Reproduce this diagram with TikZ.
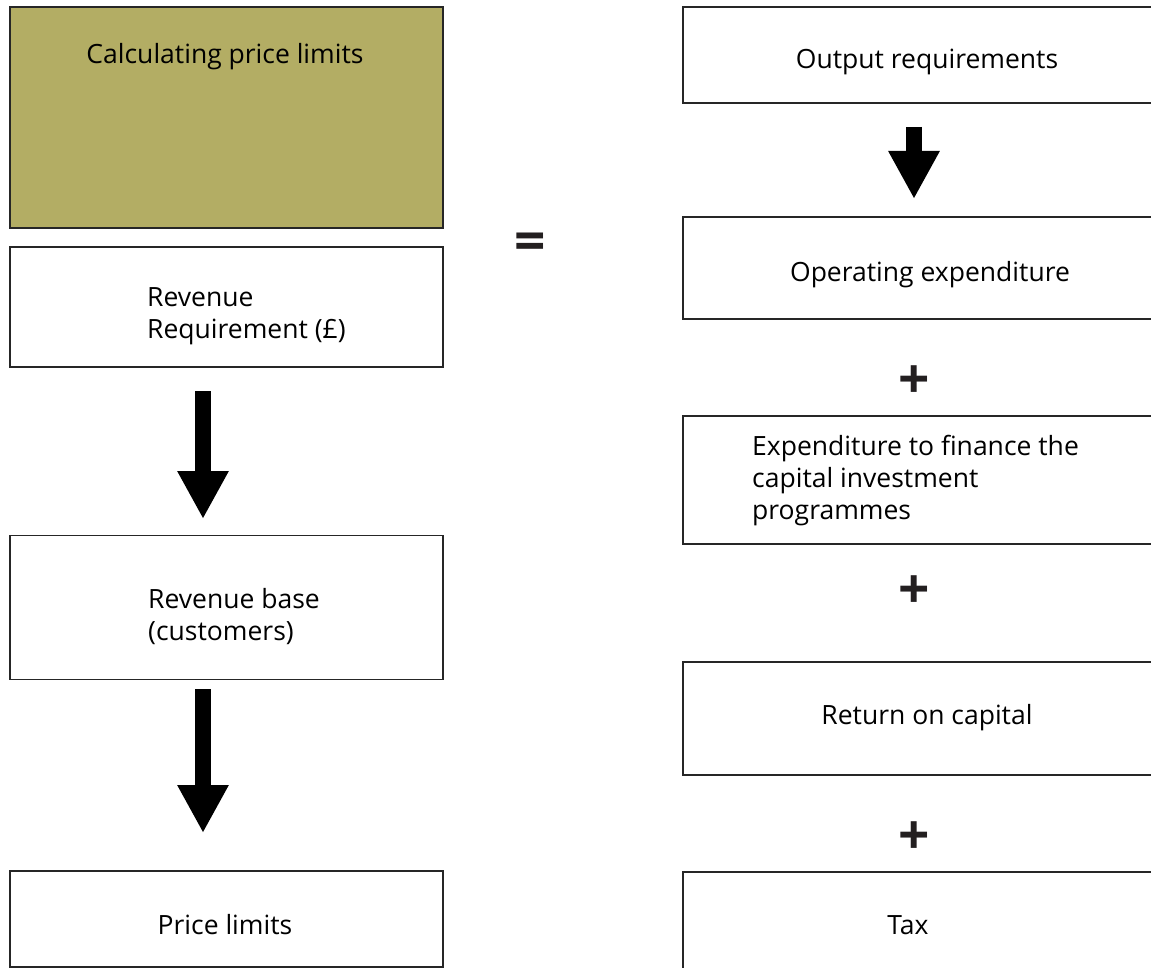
\documentclass[tikz,border=0pt]{standalone}
\usepackage{fontspec}
\setmainfont{Open Sans}
\usetikzlibrary{arrows.meta}
\definecolor{olivebox}{HTML}{B3AD64}
\definecolor{boxline}{HTML}{262626}
\definecolor{opgrey}{HTML}{231F20}
\tikzset{
  box/.style={draw=boxline, line width=1.3pt, fill=white, inner sep=0pt},
  label text/.style={inner sep=0pt, font=\fontsize{26.5}{32}\selectfont, text=black},
  block arrow/.style={line width=16pt, line cap=butt,
    -{Triangle[width=48pt, length=48pt]}},
  operator/.style={inner sep=0pt, text=opgrey, font=\fontsize{55}{55}\selectfont\bfseries}
}
\begin{document}
\begin{tikzpicture}[x=1pt, y=-1pt]
  \clip (0,0) rectangle (1151,968);
  \fill[white] (0,0) rectangle (1151,968);

  % left column
  \node[box, fill=olivebox, minimum width=433pt, minimum height=221pt] (calc) at (226.5,117.5) {};
  \node[label text] (calct) at (225,57) {Calculating price limits};

  \node[box, minimum width=433pt, minimum height=120pt] (rreq) at (226.5,307) {};
  \node[label text, anchor=west, align=left] (rreqt) at (147,316) {Revenue\\Requirement (£)};

  \node[box, minimum width=433pt, minimum height=144pt] (rbase) at (226.5,607.5) {};
  \node[label text, anchor=west, align=left] (rbaset) at (148,617) {Revenue base\\(customers)};

  \node[box, minimum width=433pt, minimum height=96pt] (plim) at (226.5,919) {};
  \node[label text] (plimt) at (225,925) {Price limits};

  \coordinate (a1s) at (203,391);
  \coordinate (a1e) at (203,519);
  \draw[block arrow] (a1s) -- (a1e);
  \coordinate (a2s) at (203,689);
  \coordinate (a2e) at (203,833);
  \draw[block arrow] (a2s) -- (a2e);

  % equals sign between the two sides
  \node[operator] (eq) at (530.5,247) {=};

  % right column
  \node[box, minimum width=488pt, minimum height=96pt] (outreq) at (927,55) {};
  \node[label text] (outreqt) at (927,62) {Output requirements};

  \node[box, minimum width=488pt, minimum height=102pt] (opex) at (927,268) {};
  \node[label text] (opext) at (930,275) {Operating expenditure};

  \node[box, minimum width=488pt, minimum height=128pt] (capex) at (927,480) {};
  \node[label text, anchor=west, align=left] (capext) at (752,481)
    {Expenditure to finance the\\capital investment\\programmes};

  \node[box, minimum width=488pt, minimum height=113pt] (roc) at (927,718.5) {};
  \node[label text] (roct) at (927,718) {Return on capital};

  \node[box, minimum width=488pt, minimum height=120pt] (tax) at (927,932) {};
  \node[label text] (taxt) at (908,925) {Tax};

  \coordinate (a3s) at (914,127);
  \coordinate (a3e) at (914,199);
  \draw[block arrow] (a3s) -- (a3e);

  \node[operator] (plus1) at (914.5,382) {+};
  \node[operator] (plus2) at (914.5,592) {+};
  \node[operator] (plus3) at (914.5,838) {+};
\end{tikzpicture}
\end{document}
